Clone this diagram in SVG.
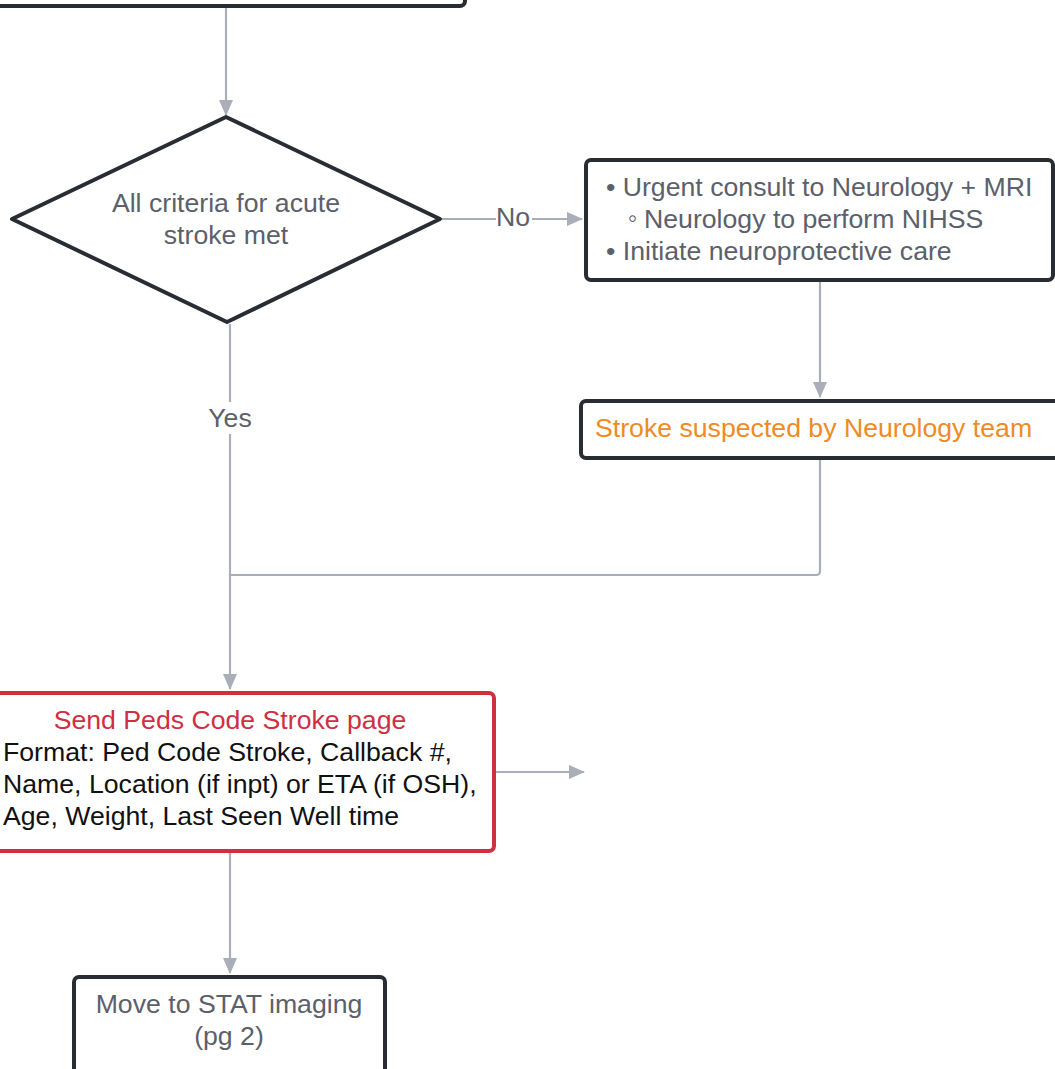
<svg xmlns="http://www.w3.org/2000/svg" width="1055" height="1069" viewBox="0 0 1055 1069">
<style>
  .node { fill: #ffffff; stroke: #282c33; stroke-width: 4; }
  .red { stroke: #d02f3f; }
  .conn { fill: none; stroke: #a9aeb8; stroke-width: 2.2; }
  text { font-family: "Liberation Sans", Arial, sans-serif; font-size: 26.67px; fill: #5b606b; }
  .c { text-anchor: middle; }
  .org { fill: #ef8a24; }
  .rt { fill: #d02f3f; }
  .blk { fill: #111111; }
  .lbl { fill: #5b606b; }
</style>
<defs>
  <marker id="ah" viewBox="0 0 16 14" refX="15" refY="7" markerWidth="16" markerHeight="14" markerUnits="userSpaceOnUse" orient="auto">
    <path d="M0,0 L16,7 L0,14 Z" fill="#a9aeb8"/>
  </marker>
</defs>
<rect width="1055" height="1069" fill="#ffffff"/>
<g id="connectors">
  <path class="conn" d="M226,8 V115" marker-end="url(#ah)"/>
  <path class="conn" d="M442,219 H582" marker-end="url(#ah)"/>
  <path class="conn" d="M820,282 V397" marker-end="url(#ah)"/>
  <path class="conn" d="M230,324 V689" marker-end="url(#ah)"/>
  <path class="conn" d="M820,460 V571 Q820,575 816,575 H230"/>
  <path class="conn" d="M496,772 H584" marker-end="url(#ah)"/>
  <path class="conn" d="M230,853 V973" marker-end="url(#ah)"/>
  <rect x="496" y="203" width="36" height="30" fill="#ffffff"/>
  <text class="lbl c" x="513" y="226">No</text>
  <rect x="206" y="402" width="48" height="32" fill="#ffffff"/>
  <text class="lbl c" x="230" y="427">Yes</text>
</g>
<g id="top-node">
  <rect class="node" x="-20" y="-60" width="485" height="66" rx="5"/>
</g>
<g id="decision">
  <path class="node" d="M226,117 L440,219 L227,322 L12,219 Z" stroke-linejoin="round"/>
  <text class="c" x="226" y="212">All criteria for acute</text>
  <text class="c" x="226" y="244">stroke met</text>
</g>
<g id="urgent-consult">
  <rect class="node" x="586" y="160" width="467" height="120" rx="5"/>
  <text x="606" y="196">• Urgent consult to Neurology + MRI</text>
  <text x="628" y="227" font-size="20">◦</text>
  <text x="644" y="228">Neurology to perform NIHSS</text>
  <text x="606" y="260">• Initiate neuroprotective care</text>
</g>
<g id="stroke-suspected">
  <rect class="node" x="581" y="401" width="500" height="57" rx="5"/>
  <text class="org" x="595" y="437">Stroke suspected by Neurology team</text>
</g>
<g id="send-page">
  <rect class="node red" x="-20" y="693" width="514" height="158" rx="5"/>
  <text class="rt c" x="230" y="729">Send Peds Code Stroke page</text>
  <text class="blk" x="3" y="761">Format: Ped Code Stroke, Callback #,</text>
  <text class="blk" x="3" y="793">Name, Location (if inpt) or ETA (if OSH),</text>
  <text class="blk" x="3" y="825">Age, Weight, Last Seen Well time</text>
</g>
<g id="stat-imaging">
  <rect class="node" x="74" y="977" width="311" height="120" rx="5"/>
  <text class="c" x="229" y="1013">Move to STAT imaging</text>
  <text class="c" x="229" y="1045">(pg 2)</text>
</g>
</svg>
